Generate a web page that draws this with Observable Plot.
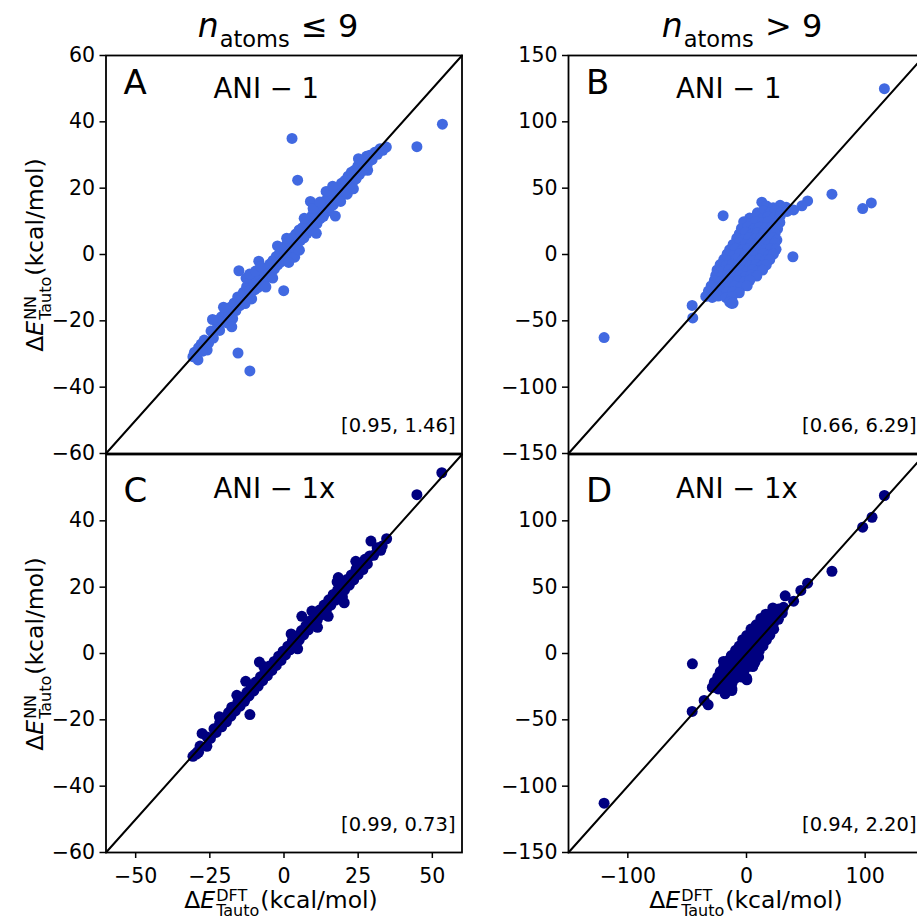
<!DOCTYPE html>
<html><head><meta charset="utf-8">
<script src="https://cdn.jsdelivr.net/npm/d3@7"></script>
<script src="https://cdn.jsdelivr.net/npm/@observablehq/plot@0.6"></script>
<style>
html,body{margin:0;padding:0;background:#fff;overflow:hidden;}
#wrap{position:relative;width:917px;height:919px;overflow:hidden;font-family:"DejaVu Sans";background:#fff;}
#wrap svg{position:absolute;left:0;top:0;max-width:none;}
#wrap text{white-space:pre;}
g[aria-label$="tick"] path{stroke-width:1.5px}
</style></head><body><div id="wrap"></div>
<script>
// ---- data ----
const colTitles = [{rel: " ≤ 9"}, {rel: " > 9"}];
const panelLetters = ["A", "B", "C", "D"];
const modelNames = ["ANI − 1", "ANI − 1", "ANI − 1x", "ANI − 1x"];
const stats = ["[0.95, 1.46]", "[0.66, 6.29]", "[0.99, 0.73]", "[0.94, 2.20]"];
const smallDomain = [-60, 60];
const largeDomain = [-150, 150];
const smallXTicks = [-50, -25, 0, 25, 50];
const largeXTicks = [-100, 0, 100];
const smallYTicksTop = [-60, -40, -20, 0, 20, 40, 60];
const smallYTicksBottom = [-60, -40, -20, 0, 20, 40];
const largeYTicksTop = [-150, -100, -50, 0, 50, 100, 150];
const largeYTicksBottom = [-150, -100, -50, 0, 50, 100];

const pointsA = [
 [53.4,39.3],[44.8,32.5],[2.7,35],[4.6,22.4],[8.9,16],[17.3,11.6],[-15.2,-4.9],[-0.1,-10.9],[-15.5,-29.7],[-11.5,-35.1],[-8.5,-2],
 [-30.7,-30.8],[-29,-31.8],[-27.9,-27],[-25.9,-28.8],[34.5,32.4],[27.8,29.6],[28.2,25.4],
 [-30.2,-29.5],[-29.5,-30.6],[-28.8,-28.1],[-27.6,-29.2],[-26.9,-25.8],[-25.4,-26.7],[-24.6,-23.1],[-23.8,-25.2],[-22.9,-19.9],[-22.4,-21.6],
 [-21.7,-22.9],[-21.1,-18.8],[-20.5,-20.1],[-19.8,-17.4],[-19.2,-20.6],[-18.6,-18.1],[-17.9,-15.8],[-17.3,-19.3],[-16.8,-14.6],[-16.2,-16.9],
 [-15.6,-12.8],[-14.9,-15.4],[-14.3,-13.2],[-13.7,-11.4],[-13.1,-14.8],[-12.6,-9.7],[-12.0,-12.3],[-11.4,-10.8],[-10.9,-13.4],[-10.3,-8.2],
 [-9.8,-10.6],[-9.2,-7.4],[-8.7,-9.9],[-8.1,-6.3],[-7.6,-8.7],[-7.0,-5.1],[-6.5,-7.6],[-5.9,-4.2],[-5.4,-6.8],[-4.8,-2.9],[-4.3,-5.5],
 [-3.7,-1.8],[-3.2,-4.3],[-2.6,-0.6],[-2.1,-3.1],[-1.5,0.4],[-1.0,-2.2],[-0.4,1.7],[0.1,-0.9],[0.7,2.8],[1.2,0.1],[1.8,3.9],[2.3,1.2],
 [2.9,5.1],[3.4,2.0],[4.0,6.2],[4.5,3.1],[5.1,7.4],[5.6,4.3],[6.2,8.1],[6.7,5.0],[7.3,9.6],[7.8,6.4],[8.4,10.7],[8.9,7.2],[9.5,11.8],
 [10.0,8.6],[10.6,12.4],[11.1,9.3],[11.7,13.9],[12.2,10.8],[12.8,14.6],[13.3,11.5],[13.9,16.2],[14.4,12.9],[15.0,17.1],[15.5,14.2],
 [16.1,18.3],[16.6,15.0],[17.2,19.4],[17.7,16.3],[18.3,20.2],[18.8,17.4],[19.4,21.5],[19.9,18.6],[20.5,22.3],[21.0,19.2],[21.6,23.6],
 [22.1,20.7],[22.7,24.8],[23.2,21.9],[23.8,25.4],[24.3,22.8],[24.9,26.7],[25.4,24.1],[26.0,27.6],[26.6,25.3],[27.3,28.4],[28.0,26.9],
 [28.9,29.9],[29.7,28.6],[30.6,30.8],[31.5,30.2],[32.4,31.9],[33.3,31.4],
 [-12.8,-7.1],[-11.6,-5.9],[-9.6,-5.0],[-6.1,-9.8],[-3.8,-7.1],[3.6,-0.8],[9.8,13.9],[12.1,15.8],[14.2,19.0],[19.1,16.0],[21.3,18.2],[5.2,1.3],
 [-20.4,-15.9],[-17.6,-21.8],[-7.9,-3.6],[-2.2,2.6],[1.6,-2.4],[6.8,10.9],[10.9,6.4],[16.4,20.6],[23.4,19.8],[25.1,28.9],[-24.1,-19.6],[0.9,4.9]
];
const pointsB = [
 [116.2,125],[72,45.5],[97.9,34.6],[105.2,38.9],[51.5,40.4],[12.9,39.4],[-19.7,29.3],[39.1,-1.7],[-120,-62.6],[-45.8,-38.4],[-45.3,-47.8],
 [46.7,36.7],[39.7,33.6],[-12.4,-36.9],
 [17,36.5],[22.5,35.2],[28.3,37.1],[33.4,35.6],
 [9.2,31.4],[14.1,32.8],[19.6,31.2],[24.3,33.1],[29.1,31.6],[34.2,32.5],
 [2.6,27.5],[8.3,28.9],[13.4,27.2],[18.1,28.6],[23.5,27.8],[28.4,28.9],
 [-2.4,24.6],[3.1,23.3],[7.6,24.8],[13.2,23.7],[18.3,24.9],[22.8,23.4],[28.1,24.2],
 [-4.3,19.6],[1.2,20.8],[6.4,19.3],[10.8,20.5],[16.2,19.7],[21.3,20.9],[26.2,19.4],
 [-6.1,15.5],[-0.8,16.7],[4.3,15.2],[9.1,16.4],[14.4,15.8],[19.2,16.9],[24.1,15.6],
 [-8.2,12.3],[-2.7,11.4],[2.3,12.8],[7.2,11.6],[12.1,12.5],[17.4,11.8],[22.2,12.6],[25.6,10.9],
 [-11.3,7.6],[-5.8,8.7],[-1.2,7.4],[4.1,8.3],[9.2,7.7],[14.3,8.9],[19.1,7.3],[23.8,8.4],
 [-14.2,3.6],[-9.1,4.7],[-3.8,3.3],[1.4,4.5],[6.2,3.8],[11.3,4.9],[16.1,3.4],[20.7,4.6],[24.9,3.9],
 [-16.3,0.4],[-11.2,-0.7],[-5.7,0.8],[-1.1,-0.5],[4.2,0.6],[9.3,-0.4],[14.1,0.7],[18.8,-0.6],[22.7,0.3],
 [-19.1,-3.6],[-13.8,-4.7],[-8.9,-3.4],[-3.6,-4.5],[1.3,-3.8],[6.1,-4.9],[11.2,-3.3],[15.9,-4.4],[19.6,-3.9],
 [-22.2,-7.6],[-17.1,-8.8],[-11.9,-7.3],[-6.8,-8.6],[-2.1,-7.7],[3.2,-8.4],[8.1,-7.5],[12.8,-8.7],[16.7,-7.8],
 [-24.8,-11.6],[-19.9,-12.7],[-14.7,-11.4],[-9.8,-12.5],[-4.9,-11.8],[0.3,-12.6],[5.1,-11.3],[9.8,-12.4],[13.6,-11.7],
 [-25.9,-15.7],[-21.2,-16.6],[-15.8,-15.3],[-11.1,-16.4],[-5.8,-15.6],[-1.2,-16.8],[4.1,-15.4],[8.7,-16.3],
 [-27.1,-19.6],[-22.2,-20.8],[-16.9,-19.3],[-11.8,-20.4],[-7.2,-19.7],[-1.9,-20.6],[2.8,-19.5],
 [-29.8,-23.7],[-24.9,-24.6],[-19.8,-23.4],[-14.7,-24.5],[-9.9,-23.8],[-4.8,-24.7],[0.6,-23.6],
 [-32.1,-27.6],[-26.8,-28.7],[-21.9,-27.4],[-16.8,-28.3],[-11.2,-27.8],[-6.1,-28.9],
 [-34.3,-31.6],[-28.9,-32.4],[-23.8,-31.3],[-17.2,-32.5],[-12.1,-31.8],
 [-14.2,-35.8],[-11.3,-36.6]
];
const pointsC = [
 [53.2,54.5],[44.8,47.9],[29.3,33.9],[34.6,34.6],[24.2,27.8],[18.3,22.9],[6,11.2],[20.3,15.3],[-8.3,-2.6],[-11.5,-18.4],[-12.9,-8.4],
 [-17.6,-16.2],[-27.6,-24.1],[-26,-28],[-30.7,-31],[-29.5,-30.3],[-28.8,-29.8],[32.6,31.1],[11.3,7.9],[19.7,17],
 [-30.0,-30.4],[-29.1,-29.6],[-28.3,-27.9],[-25.9,-25.2],[-24.8,-25.6],[-23.6,-22.7],[-22.9,-23.8],[-21.7,-21.0],[-21.0,-22.1],
 [-20.2,-19.4],[-19.4,-20.6],[-18.7,-17.8],[-17.9,-18.9],[-17.1,-16.5],[-16.4,-17.3],[-15.6,-14.8],[-14.8,-15.9],[-14.1,-13.2],
 [-13.3,-14.4],[-12.5,-11.7],[-11.8,-12.8],[-11.0,-10.1],[-10.2,-11.3],[-9.5,-8.6],[-8.7,-9.8],[-7.9,-7.0],[-7.2,-8.2],[-6.4,-5.5],
 [-5.6,-6.7],[-4.9,-3.8],[-4.1,-5.1],[-3.3,-2.4],[-2.6,-3.6],[-1.8,-0.8],[-1.0,-2.1],[-0.3,0.7],[0.5,-0.4],[1.3,2.2],[2.0,1.1],
 [2.8,3.8],[3.6,2.5],[4.3,5.3],[5.1,4.0],[5.9,6.9],[6.6,5.6],[7.4,8.4],[8.2,7.1],[8.9,9.9],[9.7,8.6],[10.5,11.6],[11.2,10.1],
 [12.0,13.1],[12.8,11.7],[13.5,14.6],[14.3,13.1],[15.1,16.2],[15.8,14.6],[16.6,17.8],[17.4,16.1],[18.1,19.2],[18.9,17.6],
 [19.7,20.8],[20.4,19.1],[21.2,22.3],[22.0,20.6],[22.7,23.7],[23.5,22.2],[24.3,25.4],[25.0,23.8],[25.8,26.6],[26.6,25.3],
 [27.3,28.4],[28.1,27.0],[28.9,29.4],[30.2,29.6],[31.4,31.9],[33.1,32.4],
 [-15.9,-12.6],[-6.8,-3.9],[2.4,5.9],[9.4,12.8],[14.9,11.2],[-21.8,-19.1],[4.6,1.4],[17.9,21.6]
];
const pointsD = [
 [116.2,119.1],[105.8,102.7],[97.9,95.2],[72,62],[51.5,53],[45.8,47.5],[32.6,43.5],[39.7,39.4],[-45.6,-7.8],[-45.8,-43.7],
 [-32.3,-38.7],[-35.7,-35.4],[-120,-112.8],[-19.4,-6],[0.3,-19.8],[-18,-30.4],[-12.4,-27.9],[5.3,-9.8],
 [22.2,34.3],[27.1,33.6],[31.2,34.8],
 [16.3,29.6],[21.1,30.7],[25.8,29.4],[30.2,30.5],
 [12.1,26.4],[17.2,25.6],[21.8,26.7],[26.9,25.8],
 [8.2,21.6],[12.9,22.7],[18.1,21.4],[22.6,22.5],
 [3.8,18.4],[9.1,17.5],[13.8,18.6],[18.7,17.7],[22.9,18.3],
 [0.2,13.6],[5.1,14.7],[10.2,13.4],[14.8,14.5],[19.6,13.8],
 [-3.2,10.4],[1.9,9.5],[6.8,10.6],[12.2,9.7],[16.8,10.3],
 [-6.1,5.6],[-1.2,6.7],[4.1,5.4],[8.8,6.5],[13.9,5.8],
 [-9.2,2.4],[-4.1,1.5],[0.9,2.6],[6.2,1.7],[10.8,2.3],
 [-12.8,-1.6],[-8.1,-2.7],[-2.9,-1.4],[1.8,-2.5],[6.9,-1.8],[10.2,-2.6],
 [-16.1,-5.6],[-10.8,-6.7],[-6.2,-5.4],[-0.9,-6.5],[3.8,-5.8],[7.1,-6.6],
 [-18.9,-9.6],[-14.2,-10.7],[-8.8,-9.4],[-4.1,-10.5],[1.2,-9.8],
 [-22.1,-13.6],[-16.8,-14.7],[-12.1,-13.4],[-6.9,-14.5],[-2.2,-13.8],
 [-24.2,-17.6],[-19.1,-18.7],[-13.8,-17.4],[-9.2,-18.5],[-3.9,-17.8],[0.1,-18.6],
 [-27.1,-21.6],[-21.8,-22.7],[-16.9,-21.4],[-12.2,-22.5],
 [-28.8,-25.6],[-23.9,-26.7],[-17.1,-25.4],[-12.3,-26.6]
];
const colorANI1 = "#4169e1";
const colorANI1x = "#000080";

// ---- layout ----
const W = 930, H = 919;
const colX = [[105.5, 461.5], [568, 924]];
const rowY = [[55, 453], [454, 852]];
const fmt = d => d < 0 ? "\u2212" + Math.abs(d) : String(d);
const wrap = document.getElementById("wrap");

const panels = [
  {pts: pointsA, col: 0, row: 0, dom: smallDomain, xt: smallXTicks, yt: smallYTicksTop, color: colorANI1},
  {pts: pointsB, col: 1, row: 0, dom: largeDomain, xt: largeXTicks, yt: largeYTicksTop, color: colorANI1},
  {pts: pointsC, col: 0, row: 1, dom: smallDomain, xt: smallXTicks, yt: smallYTicksBottom, color: colorANI1x},
  {pts: pointsD, col: 1, row: 1, dom: largeDomain, xt: largeXTicks, yt: largeYTicksBottom, color: colorANI1x}
];

panels.forEach((p, i) => {
  const [l, r] = colX[p.col], [t, b] = rowY[p.row];
  const diag = [[p.dom[0], p.dom[0]], [p.dom[1], p.dom[1]]];
  const chart = Plot.plot({
    width: W, height: H,
    marginLeft: l, marginRight: W - r, marginTop: t, marginBottom: H - b,
    style: {fontFamily: "DejaVu Sans", fontSize: "20.5px", background: "transparent", color: "black", maxWidth: "none"},
    x: {domain: p.dom, ticks: p.xt, axis: p.row === 1 ? "bottom" : null, tickSize: 6, tickPadding: 10, tickFormat: fmt, label: null},
    y: {domain: p.dom, ticks: p.yt, axis: "left", tickSize: 6, tickPadding: 5, tickFormat: fmt, label: null},
    marks: [
      Plot.dot(p.pts, {x: d => d[0], y: d => d[1], r: 5.5, fill: p.color, stroke: "none"}),
      Plot.line(diag, {x: d => d[0], y: d => d[1], stroke: "black", strokeWidth: 2}),
      Plot.frame({stroke: "black", strokeWidth: 1.8}),
      Plot.text([panelLetters[i]], {frameAnchor: "top-left", dx: 17.5, dy: p.row === 0 ? 38 : 47, lineAnchor: "bottom", textAnchor: "start", fontSize: 34, fill: "black"}),
      Plot.text([modelNames[i]], {frameAnchor: "top-left", dx: 107.5, dy: p.row === 0 ? 42 : 43, lineAnchor: "bottom", textAnchor: "start", fontSize: 27.5, fill: "black"}),
      Plot.text([stats[i]], {frameAnchor: "bottom-right", dx: p.col === 0 ? -6.5 : -8, dy: -22, lineAnchor: "bottom", textAnchor: "end", fontSize: 19.5, fill: "black"})
    ]
  });
  wrap.appendChild(chart);
});

// ---- overlay with math-style titles ----
const ov = d3.select(wrap).append("svg")
  .attr("width", 917).attr("height", 919)
  .style("position", "absolute").style("left", 0).style("top", 0)
  .attr("font-family", "DejaVu Sans").attr("fill", "black");

function measure(sel) { return sel.node().getComputedTextLength(); }

function energyLabel(transform, sup, sub) {
  const g = ov.append("g");
  const inner = g.append("g");
  const main = 23.5, script = 16;
  const t1 = inner.append("text").attr("font-size", main);
  t1.append("tspan").text("Δ");
  t1.append("tspan").attr("font-style", "italic").text("E");
  const w1 = measure(t1);
  const ts = inner.append("text").attr("font-size", script).attr("x", w1 + 1).attr("y", -7).text(sup);
  const tb = inner.append("text").attr("font-size", script).attr("x", w1 + 1).attr("y", 7.5).text(sub);
  const w2 = Math.max(measure(ts), measure(tb));
  const t3 = inner.append("text").attr("font-size", main).attr("x", w1 + w2 + 2).text("(kcal/mol)");
  const total = w1 + w2 + 2 + measure(t3);
  inner.attr("transform", `translate(${-total / 2},0)`);
  g.attr("transform", transform);
}
energyLabel("translate(281,908)", "DFT", "Tauto");
energyLabel("translate(746,908)", "DFT", "Tauto");
energyLabel("translate(43,255) rotate(-90)", "NN", "Tauto");
energyLabel("translate(43,654) rotate(-90)", "NN", "Tauto");

function colTitle(cx, rel) {
  const g = ov.append("g");
  const a = g.append("text").attr("font-size", 33).attr("font-style", "italic").text("n");
  const wa = measure(a);
  const b = g.append("text").attr("font-size", 22.5).attr("x", wa + 1).attr("y", 10).text("atoms");
  const wb = measure(b);
  const c = g.append("text").attr("font-size", 32).attr("x", wa + wb + 2).text(rel);
  const total = wa + wb + 2 + measure(c);
  g.attr("transform", `translate(${cx - total / 2},37)`);
}
colTitle(278, colTitles[0].rel);
colTitle(742, colTitles[1].rel);
</script></body></html>
